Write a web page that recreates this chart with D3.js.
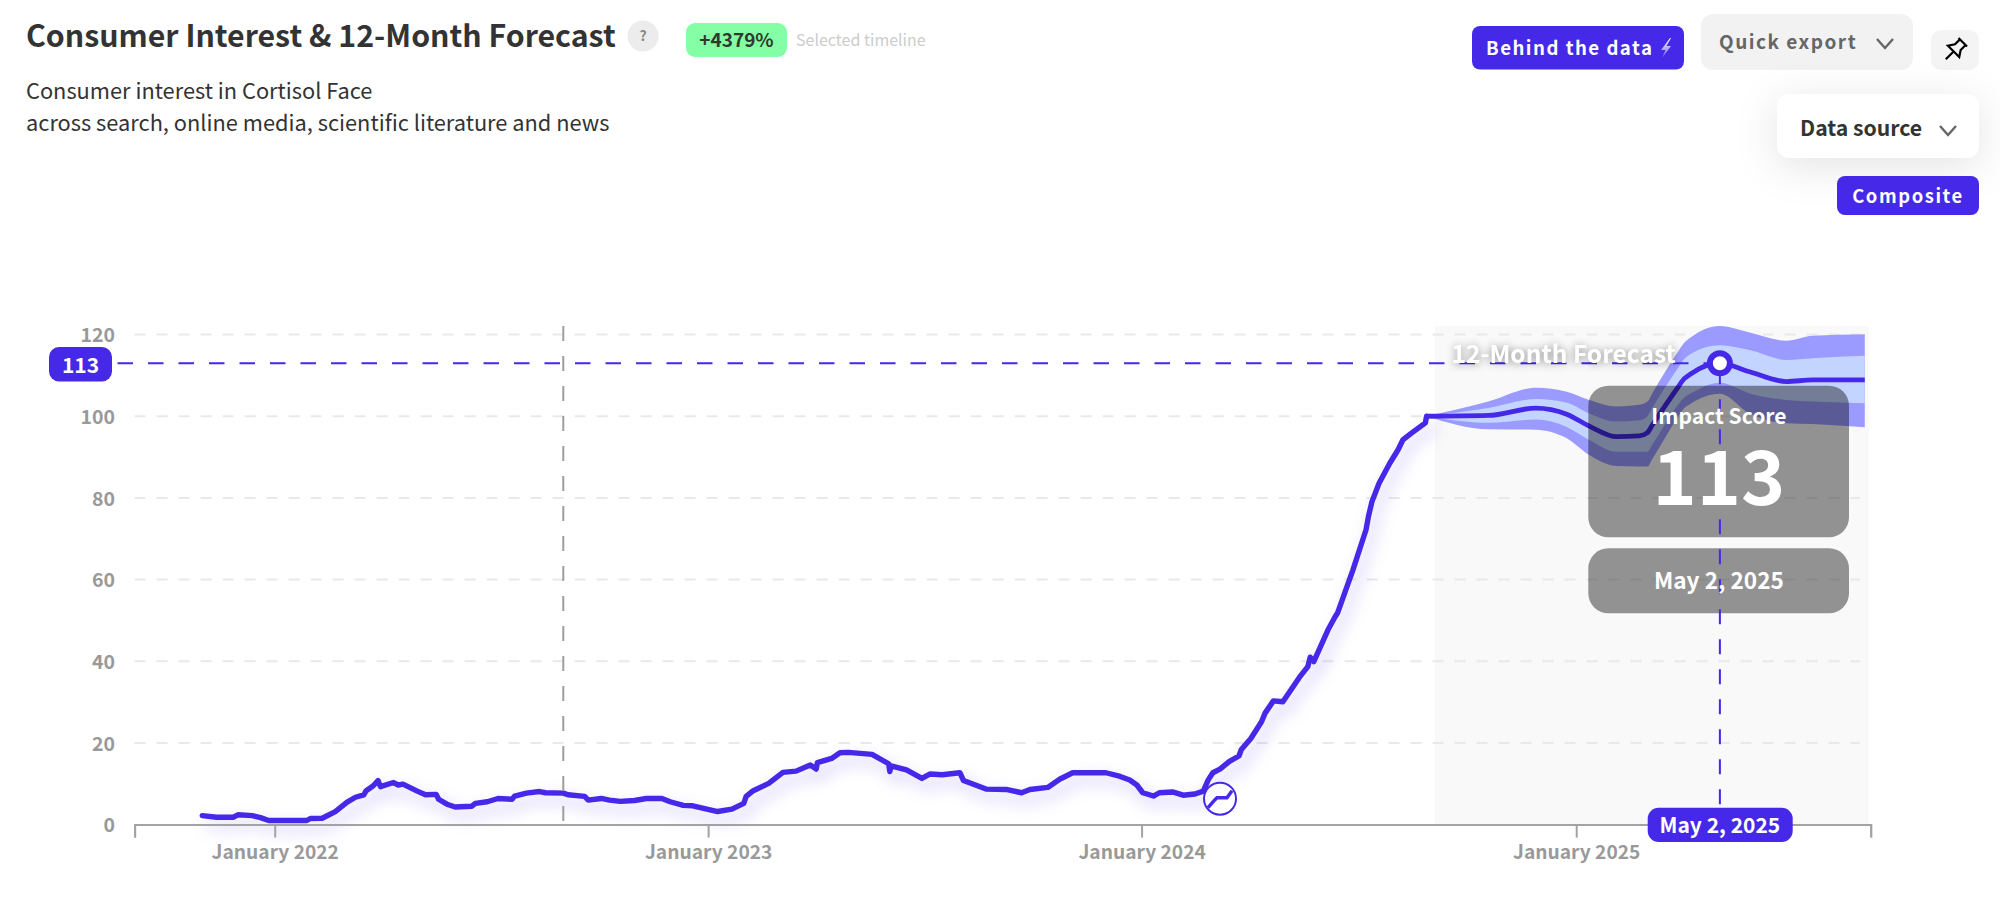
<!DOCTYPE html>
<html><head><meta charset="utf-8">
<script src="https://cdnjs.cloudflare.com/ajax/libs/d3/7.8.5/d3.min.js"></script>
<style>
html,body{margin:0;padding:0;background:#fff}
svg{display:block}
text{font-family:"Noto Sans CJK SC","Noto Sans",sans-serif}
</style></head><body><svg id="c" width="2000" height="909"></svg>
<script>
// Days counted from 1 January 2022
const histDays=[-61,-49,-35,-31,-19,-12,-5,27,30,40,51,61,68,75,77,83,87,89,100,104,108,120,127,136,138,145,152,166,169,179,188,200,202,212,223,228,243,247,261,264,275,282,291,303,313,326,333,344,352,373,385,395,397,403,416,428,439,451,456,457,469,476,483,503,517,518,519,532,545,552,562,577,580,599,616,629,636,651,661,672,700,712,720,726,731,740,745,756,765,775,782,786,790,796,804,812,814,822,831,834,841,849,863,870,872,875,887,893,895,908,919,921,924,930,939,946,950,957,963,969,970];
const histValues=[2.2,1.8,1.8,2.4,2.2,1.7,1,1,1.5,1.55,3.2,5.5,6.7,7.3,8.3,9.5,10.8,9.3,10.3,9.7,9.9,8.2,7.3,7.4,6.2,5,4.3,4.5,5.2,5.6,6.4,6.2,7,7.7,8.1,7.8,7.7,7.3,6.9,6,6.4,6,5.7,5.9,6.4,6.4,5.6,4.7,4.6,3.2,3.8,5.2,6.9,8.3,10.1,12.8,13.1,14.6,13.6,15.2,16.2,17.6,17.7,17.2,14.9,13,14.4,13.4,11.3,12.4,12.2,12.7,10.8,8.7,8.6,7.8,8.6,9.1,11.1,12.7,12.7,11.8,10.9,9.7,7.8,7,7.8,8,7.2,7.5,8.2,10.9,12.7,13.6,15.5,16.8,18.4,21.1,25.2,27.3,30.3,30.1,36.1,38.7,41,39.9,47.7,50.9,51.8,62.4,72.2,75.4,79.1,83.6,88.5,91.8,94.2,95.8,97.1,98.4,100];
const foreDays=[970,1022,1062,1088,1107,1130,1149,1156,1160,1181,1187,1192,1217,1242,1273,1295,1339];
const foreCenter=[100,100.2,102,100.5,97.6,95,95.2,96,97.8,106.8,109.2,110.3,113,110.9,108.5,108.9,108.9];
const foreOuterUp=[100,103.6,107,106,104,102.4,102.8,103.6,105.6,115.5,118,119.2,122.1,120.5,118.5,119.7,120.1];
const foreInnerUp=[100,102,104.2,103.3,100.7,98.7,99,100,102,111.5,114,115.2,117.4,116.2,113.8,114.2,114.8];
const foreInnerLow=[100,98.4,99.2,97.4,94.2,91.3,91.3,91.3,93,102.5,104.6,105.5,108.2,105.6,104,103.6,103.2];
const foreOuterLow=[100,96.8,96.7,94.6,90.5,87.8,87.7,87.7,89.5,99.5,102,103,105.5,100.7,98.3,98.1,97.3];
const yTicks=[0,20,40,60,80,100,120];
const yearTicks=[2022,2023,2024,2025];
const selectedDay=1217, selectedValue=113, markerDay=243, forecastStartDay=977;
const selectedLabel="May 2, 2025";

const PURPLE="#4528e8";
const svg=d3.select("#c");
const toDate=d=>d3.timeDay.offset(new Date(2022,0,1),d);
const x=d3.scaleTime().domain([new Date(2021,8,5),new Date(2025,8,6)]).range([134.6,1870.7]);
const y=d3.scaleLinear().domain([0,120]).range([824.6,334.6]);
const X=d=>x(toDate(d));

const T=(t,px,py,o={})=>{const e=svg.append("text").attr("x",px).attr("y",py).text(t)
 .attr("font-size",o.s||20).attr("font-weight",o.w||400).attr("fill",o.c||"#333")
 .attr("text-anchor",o.a||"start");
 if(o.ls)e.attr("letter-spacing",o.ls); if(o.f)e.style("filter",o.f); return e;};
const R=(a,b,w,h,r,f)=>svg.append("rect").attr("x",a).attr("y",b).attr("width",w).attr("height",h).attr("rx",r).attr("fill",f);
const chev=(cx,cy,c)=>svg.append("path").attr("d",`M${cx-8},${cy-4}L${cx},${cy+5}L${cx+8},${cy-4}`).attr("fill","none").attr("stroke",c).attr("stroke-width",2.4);

// Header
T("Consumer Interest & 12-Month Forecast",26,47,{s:30.3,w:600,c:"#333"});
svg.append("circle").attr("cx",643).attr("cy",36).attr("r",15.5).attr("fill","#ececec");
T("?",643,41,{s:14,w:700,c:"#888",a:"middle"});
R(686,23,101,34,9,"#85ffa6");
T("+4379%",736.5,47,{s:19,w:700,c:"#2c3a30",a:"middle"});
T("Selected timeline",796,46,{s:16,w:400,c:"#ccc"});
T("Consumer interest in Cortisol Face",26,98.5,{s:21.8});
T("across search, online media, scientific literature and news",26,130.5,{s:21.8});

R(1472,26,212,43.5,8,PURPLE);
T("Behind the data",1486,55,{s:18.6,w:600,c:"#fff",ls:1.5});
svg.append("defs").html(`<linearGradient id="bolt" x1="0" y1="0" x2="0" y2="1"><stop offset="0" stop-color="#fff"/><stop offset="1" stop-color="#fff" stop-opacity=".25"/></linearGradient>`);
svg.append("path").attr("d","M1670,38L1661,50H1665.5L1662,58L1671,46H1666.5L1671,38Z").attr("fill","url(#bolt)");
R(1701,14,212,56,12,"#f2f2f2");
T("Quick export",1719,49,{s:19,w:600,c:"#666",ls:1.5});
chev(1885,43,"#666");
R(1931,30,48,40,10,"#f4f4f4");
svg.append("path").attr("transform","translate(1955,50) rotate(45)")
 .attr("d","M-6,-11H6M-4,-11V-4L-8,2H8L4,-4V-11M0,2V13").attr("fill","none").attr("stroke","#000").attr("stroke-width",2.2);
R(1777,94,202,64,12,"#fff").style("filter","drop-shadow(0 8px 20px rgba(0,0,0,.11))");
T("Data source",1800,135.5,{s:21.2,w:600,c:"#333"});
chev(1948,130,"#666");
R(1837,176,142,39,8,PURPLE);
T("Composite",1908,202.5,{s:18.4,w:600,c:"#fff",ls:1.6,a:"middle"});

// Forecast background
R(X(forecastStartDay),326,x.range()[1]-2-X(forecastStartDay),498,0,"#f9f9f9");

// Gridlines
svg.append("g").selectAll("line").data(yTicks.slice(1)).join("line")
 .attr("x1",134.6).attr("x2",1860).attr("y1",y).attr("y2",y)
 .attr("stroke","#e9e9e9").attr("stroke-width",2).attr("stroke-dasharray","11 11");

// Forecast bands
const idx=d3.range(foreDays.length);
const band=(u,l,f)=>svg.append("path").datum(idx).attr("fill",f)
 .attr("d",d3.area().x(i=>X(foreDays[i])).y0(i=>y(l[i])).y1(i=>y(u[i])).curve(d3.curveMonotoneX));
band(foreOuterUp,foreOuterLow,"#9a9aff");
band(foreInnerUp,foreInnerLow,"#c3d5ff");
svg.append("path").datum(idx).attr("fill","none").attr("stroke",PURPLE).attr("stroke-width",4.8)
 .attr("d",d3.line().x(i=>X(foreDays[i])).y(i=>y(foreCenter[i])).curve(d3.curveMonotoneX));

// Historical line
svg.append("path").datum(d3.range(histDays.length)).attr("fill","none").attr("stroke",PURPLE)
 .attr("stroke-width",5.4).attr("stroke-linejoin","round").attr("stroke-linecap","round")
 .style("filter","drop-shadow(5px 8px 8px rgba(69,40,232,.28))")
 .attr("d",d3.line().x(i=>X(histDays[i])).y(i=>y(histValues[i])));

// Grey marker line
svg.append("line").attr("x1",X(markerDay)).attr("x2",X(markerDay)).attr("y1",326).attr("y2",824)
 .attr("stroke","#9e9e9e").attr("stroke-width",2).attr("stroke-dasharray","15 15");

// Axes
const axX=svg.append("g").attr("transform","translate(0,824.6)")
 .call(d3.axisBottom(x).tickValues([x.domain()[0],...yearTicks.map(v=>new Date(v,0,1)),x.domain()[1]])
  .tickSizeOuter(0).tickSize(13).tickPadding(8)
  .tickFormat(d=>d.getMonth()===0?d3.timeFormat("%B %Y")(d):""));
axX.select(".domain").attr("stroke","#a3a3a3").attr("stroke-width",2);
axX.selectAll("line").attr("stroke","#a3a3a3").attr("stroke-width",2);
axX.selectAll("text").attr("font-size",19.2).attr("font-weight",600).attr("fill","#999").attr("font-family",'"Noto Sans CJK SC"');
const axY=svg.append("g").attr("transform","translate(121,1)")
 .call(d3.axisLeft(y).tickValues(yTicks).tickSize(0).tickPadding(6));
axY.select(".domain").remove();
axY.selectAll("text").attr("font-size",19.5).attr("font-weight",600).attr("fill","#999").attr("font-family",'"Noto Sans CJK SC"');

// Trend icon
const ic=svg.append("g").attr("transform",`translate(1220,798.7)`);
ic.append("circle").attr("r",16).attr("fill","#fff").attr("fill-opacity",.6).attr("stroke",PURPLE).attr("stroke-width",2);
ic.append("path").attr("d","M-12,9L-5,1L-3,-1H7L12,-8").attr("fill","none").attr("stroke",PURPLE).attr("stroke-width",3.4);

// Tooltip boxes
const TT="rgba(0,0,0,.41)";
R(1588.3,385.7,260.7,151.6,20,TT);
R(1588.3,548.3,260.7,65,20,TT);

// Selection crosshair
const sx=X(selectedDay), sy=y(selectedValue);
svg.append("line").attr("x1",117.5).attr("x2",sx).attr("y1",sy).attr("y2",sy)
 .attr("stroke",PURPLE).attr("stroke-width",2).attr("stroke-dasharray","15.5 15");
svg.append("line").attr("x1",sx).attr("x2",sx).attr("y1",sy).attr("y2",806)
 .attr("stroke",PURPLE).attr("stroke-width",2).attr("stroke-dasharray","15 15").attr("stroke-dashoffset",-6);
svg.append("circle").attr("cx",sx).attr("cy",sy).attr("r",10).attr("fill","#fff").attr("stroke",PURPLE).attr("stroke-width",6);

// Texts on top
T("12-Month Forecast",1451.5,363,{s:24.5,w:600,c:"#fff",f:"drop-shadow(0 1px 4px rgba(0,0,0,.45))"});
T("Impact Score",sx-1,424,{s:21,w:600,c:"#fff",a:"middle"});
T(String(selectedValue),sx-1,505,{s:75,w:600,c:"#fff",a:"middle"});
T(selectedLabel,sx-1,589,{s:22.6,w:600,c:"#fff",a:"middle"});
R(49,347,63,34.4,10,PURPLE);
T(String(selectedValue),80.5,372.5,{s:21,w:600,c:"#fff",a:"middle"});
R(1647.7,807.7,145,34.3,11,PURPLE);
T(selectedLabel,sx,832.5,{s:21,w:600,c:"#fff",a:"middle"});
</script></body></html>
